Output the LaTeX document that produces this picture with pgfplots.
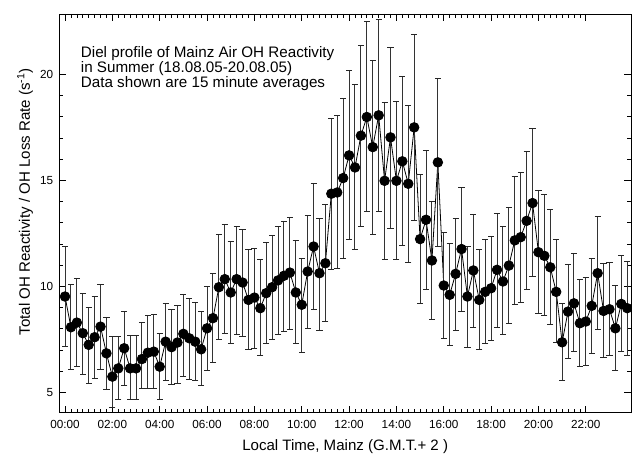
\documentclass[border=0pt]{standalone}
\usepackage{fontspec}
\setmainfont{Liberation Sans}
\setsansfont{Liberation Sans}
\usepackage{pgfplots}
\pgfplotsset{compat=1.18}
\usepackage{pgfplotstable}

\pgfplotstableread{
x y ep em
0.00 9.52 2.36 2.36
0.25 8.07 2.00 1.98
0.50 8.29 2.10 2.05
0.75 7.79 1.89 1.97
1.00 7.24 1.78 1.81
1.25 7.60 1.92 1.94
1.50 8.10 2.00 2.01
1.75 6.84 1.70 1.70
2.00 5.74 1.89 1.45
2.25 6.13 1.50 1.49
2.50 7.08 1.73 1.77
2.75 6.13 1.53 1.49
3.00 6.13 1.53 1.49
3.25 6.57 1.72 1.38
3.50 6.87 1.74 1.68
3.75 6.92 1.73 1.73
4.00 6.21 1.58 1.54
4.25 7.39 1.81 1.81
4.50 7.13 1.76 1.78
4.75 7.35 1.73 1.92
5.00 7.76 1.84 1.99
5.25 7.55 1.89 1.94
5.50 7.39 1.85 1.81
5.75 7.03 1.78 1.73
6.00 8.02 1.97 2.00
6.25 8.50 2.12 2.10
6.50 9.96 2.47 2.46
6.75 10.34 2.57 2.55
7.00 9.71 2.41 2.40
7.25 10.34 2.49 2.63
7.50 10.18 2.52 2.55
7.75 9.36 2.36 2.36
8.00 9.47 2.33 2.39
8.25 8.97 2.28 2.21
8.50 9.68 2.39 2.37
8.75 9.96 2.43 2.49
9.00 10.28 2.55 2.57
9.25 10.50 2.56 2.63
9.50 10.65 2.62 2.67
9.75 9.71 2.46 2.40
10.00 9.13 2.20 2.26
10.25 10.70 2.63 2.68
10.50 11.88 2.96 2.96
10.75 10.62 2.60 2.68
11.00 11.09 2.76 2.75
11.25 14.37 3.57 3.56
11.50 14.43 3.63 3.57
11.75 15.11 3.73 3.78
12.00 16.18 4.02 3.98
12.25 15.61 3.89 3.89
12.50 17.11 4.27 4.28
12.75 17.99 4.52 4.45
13.00 16.57 4.10 4.14
13.25 18.07 4.52 4.53
13.50 14.98 3.71 3.73
13.75 17.03 4.22 4.28
14.00 14.98 3.75 3.73
14.25 15.90 3.98 3.99
14.50 14.84 3.69 3.71
14.75 17.50 4.38 4.39
15.00 12.23 3.04 3.06
15.25 13.14 3.28 3.27
15.50 11.22 2.78 2.80
15.75 15.85 3.98 3.97
16.00 10.04 2.50 2.49
16.25 9.60 2.40 2.40
16.50 10.59 2.63 2.65
16.75 11.76 2.91 2.95
17.00 9.52 2.36 2.39
17.25 10.75 2.66 2.68
17.50 9.36 2.36 2.33
17.75 9.74 2.46 2.43
18.00 9.91 2.44 2.47
18.25 10.78 2.68 2.71
18.50 10.23 2.60 2.52
18.75 10.98 2.74 2.75
19.00 12.17 3.02 3.04
19.25 12.32 3.07 3.08
19.50 13.09 3.28 3.26
19.75 13.93 3.50 3.47
20.00 11.61 2.90 2.88
20.25 11.44 2.88 2.83
20.50 10.90 2.71 2.72
20.75 9.74 2.46 2.39
21.00 7.36 1.84 1.81
21.25 8.81 2.21 2.20
21.50 9.20 2.34 2.28
21.75 8.26 2.05 2.05
22.00 8.34 2.09 2.08
22.25 9.08 2.25 2.27
22.50 10.62 2.68 2.64
22.75 8.84 2.22 2.19
23.00 8.92 2.21 2.20
23.25 8.02 2.00 2.00
23.50 9.17 2.27 2.25
23.75 8.97 2.20 2.21
}\ohdata

\begin{document}
\begin{tikzpicture}
\begin{axis}[name=ax, scale only axis, width=428.75pt, height=299pt,
 xmin=-0.24, xmax=23.91, ymin=4.04, ymax=22.85,
 xtick={0,2,4,6,8,10,12,14,16,18,20,22},
 xticklabels={00:00,02:00,04:00,06:00,08:00,10:00,12:00,14:00,16:00,18:00,20:00,22:00},
 minor x tick num=7,
 ytick={5,10,15,20}, minor y tick num=4,
 tick align=inside, major tick length=5pt, minor tick length=2.8pt,
 /pgf/number format/assume math mode=true,
 ticklabel style={font=\fontsize{8.8}{10}\selectfont, inner sep=0pt},
 xticklabel style={anchor=center, yshift=-8.6pt},
 yticklabel style={anchor=east, xshift=-4.4pt},
 xlabel={Local Time, Mainz (G.M.T.+ 2 )},
 ylabel={Total OH Reactivity / OH Loss Rate (s\textsuperscript{-1})},
 label style={font=\fontsize{11.3}{13}\selectfont},
 xlabel style={at={([yshift=-25.5pt]axis description cs:0.5,0)}, anchor=center},
 ylabel style={at={([xshift=-25.7pt,yshift=8.8pt]axis description cs:0,0.5)}, anchor=center},
 axis line style={line width=0.6pt},
 every tick/.style={black, line width=0.5pt},
]
\addplot[black, line width=0.6pt, mark=*, mark size=3.6pt, mark options={fill=black},
 error bars/.cd, y dir=both, y explicit,
 error mark=-,
 error bar style={black!80, line width=0.75pt},
 error mark options={rotate=90, black!85, mark size=2.3pt, line width=0.75pt}]
 table[x=x, y=y, y error plus=ep, y error minus=em]{\ohdata};
\node[anchor=base west, font=\fontsize{11.4}{13}\selectfont, inner sep=0pt] at ([xshift=16pt,yshift=-32.3pt]rel axis cs:0,1) {Diel profile of Mainz Air OH Reactivity};
\node[anchor=base west, font=\fontsize{11.4}{13}\selectfont, inner sep=0pt] at ([xshift=16pt,yshift=-43.9pt]rel axis cs:0,1) {in Summer (18.08.05-20.08.05)};
\node[anchor=base west, font=\fontsize{11.4}{13}\selectfont, inner sep=0pt] at ([xshift=16pt,yshift=-55.5pt]rel axis cs:0,1) {Data shown are 15 minute averages};
\end{axis}
\pgfresetboundingbox
\path[use as bounding box] ([shift={(-44.5pt,-31pt)}]ax.south west) rectangle ([shift={(0.75pt,10.5pt)}]ax.north east);
\end{tikzpicture}
\end{document}
